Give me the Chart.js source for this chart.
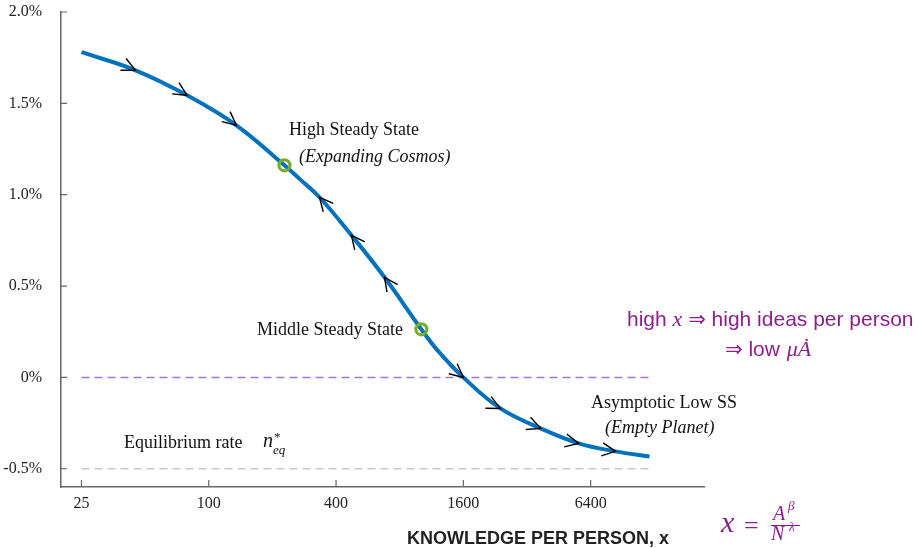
<!DOCTYPE html>
<html>
<head>
<meta charset="utf-8">
<script src="https://cdn.jsdelivr.net/npm/chart.js@4"></script>
<style>
  html, body { margin: 0; padding: 0; background: #fff; }
</style>
</head>
<body>
<canvas id="chart" width="922" height="548"></canvas>
<script>
// knowledge per person (log axis) vs growth rate in %
const curveX = [25, 45, 79, 135, 228, 272, 334, 473, 678, 1013, 1208, 1600, 2395, 3715, 5620, 8390, 12150]
const curveY = [1.78, 1.681, 1.544, 1.38, 1.161, 1.081, 0.986, 0.778, 0.548, 0.263, 0.148, 0.0, -0.170, -0.279, -0.361, -0.405, -0.433]

const steadyX = [228, 1013]
const steadyY = [1.161, 0.263]

// arrow heads along the path, dir 1 = towards larger x, -1 = back
const arrowX = [45, 79, 135, 334, 473, 678, 1600, 2395, 3715, 5620, 8390]
const arrowY = [1.681, 1.544, 1.38, 0.986, 0.778, 0.548, 0.0, -0.170, -0.279, -0.361, -0.405]
const arrowDir = [1, 1, 1, -1, -1, -1, 1, 1, 1, 1, 1]

const refX = [25, 12150]
const zeroY = [0, 0]
const eqY = [-0.5, -0.5]

const xTicks = [25, 100, 400, 1600, 6400]
const yTicks = [-0.5, 0, 0.5, 1, 1.5, 2]

const serif = "'Liberation Serif', 'DejaVu Serif', serif"
const sans = "'Liberation Sans', 'DejaVu Sans', sans-serif"
const purple = '#8d1f8d'

const pts = (xs, ys) => xs.map((v, i) => ({x: v, y: ys[i]}))

const text = (ctx, str, x, y, font, color, align) => {
    ctx.font = font
    ctx.fillStyle = color || '#111'
    ctx.textAlign = align || 'left'
    ctx.textBaseline = 'middle'
    ctx.fillText(str, x, y)
    return x + ctx.measureText(str).width
}

const noPad = s => {
    s.paddingTop = 0
    s.paddingBottom = 0
    s.paddingLeft = 0
    s.paddingRight = 0
}

const arrowPlugin = {
    id: 'arrows',
    afterDatasetsDraw(chart) {
        const {ctx, scales: {x, y}} = chart
        const px = curveX.map(v => x.getPixelForValue(v))
        const py = curveY.map(v => y.getPixelForValue(v))
        ctx.save()
        ctx.strokeStyle = '#000'
        ctx.lineWidth = 1.4
        arrowX.forEach((ax, i) => {
            const tx = x.getPixelForValue(ax)
            const ty = y.getPixelForValue(arrowY[i])
            let k = px.findIndex(p => p > tx + 0.5)
            if (k < 1) k = px.length - 1
            let ang = Math.atan2(py[k] - py[k - 1], px[k] - px[k - 1])
            if (arrowDir[i] < 0) ang += Math.PI
            const len = 15, spread = 0.45
            ctx.beginPath()
            ctx.moveTo(tx - len * Math.cos(ang - spread), ty - len * Math.sin(ang - spread))
            ctx.lineTo(tx, ty)
            ctx.lineTo(tx - len * Math.cos(ang + spread), ty - len * Math.sin(ang + spread))
            ctx.stroke()
        })
        ctx.restore()
    }
}

const tickPlugin = {
    id: 'innerTicks',
    afterDraw(chart) {
        const {ctx, chartArea, scales: {x, y}} = chart
        ctx.save()
        ctx.strokeStyle = '#666'
        ctx.lineWidth = 1.2
        ctx.beginPath()
        xTicks.forEach(v => {
            const p = x.getPixelForValue(v)
            ctx.moveTo(p, chartArea.bottom)
            ctx.lineTo(p, chartArea.bottom - 7)
        })
        yTicks.forEach(v => {
            const p = y.getPixelForValue(v)
            ctx.moveTo(chartArea.left, p)
            ctx.lineTo(chartArea.left + 6, p)
        })
        ctx.stroke()
        ctx.restore()
    }
}

const notePlugin = {
    id: 'notes',
    afterDraw(chart) {
        const ctx = chart.ctx
        ctx.save()
        text(ctx, 'High Steady State', 289, 130, `18px ${serif}`)
        text(ctx, '(Expanding Cosmos)', 299, 157, `italic 18px ${serif}`)
        text(ctx, 'Middle Steady State', 257, 330, `18px ${serif}`)
        text(ctx, 'Asymptotic Low SS', 591, 403, `18px ${serif}`)
        text(ctx, '(Empty Planet)', 605, 428, `italic 18px ${serif}`)
        text(ctx, 'Equilibrium rate', 124, 443, `18px ${serif}`)
        text(ctx, 'n', 263, 442, `italic 20px ${serif}`)
        text(ctx, '*', 274, 438, `13px ${serif}`)
        text(ctx, 'eq', 273, 451, `italic 13px ${serif}`)

        // purple remark on the right
        let cx = text(ctx, 'high ', 627, 320, `21px ${sans}`, purple)
        cx = text(ctx, 'x', cx, 320, `italic 22px ${serif}`, purple)
        text(ctx, ' \u21d2 high ideas per person', cx, 320, `21px ${sans}`, purple)
        cx = text(ctx, '\u21d2 low ', 725, 350, `21px ${sans}`, purple)
        text(ctx, '\u03bc\u0226', cx + 1, 350, `italic 22px ${serif}`, purple)

        // axis title and formula
        text(ctx, 'KNOWLEDGE PER PERSON, x', 407, 539, `bold 18px ${sans}`, '#222')
        text(ctx, 'x', 721, 524, `italic 30px ${serif}`, purple)
        text(ctx, '=', 744, 527, `26px ${serif}`, purple)
        text(ctx, 'A', 773, 515, `italic 20px ${serif}`, purple)
        text(ctx, '\u03b2', 788, 507, `italic 13px ${serif}`, purple)
        text(ctx, 'N', 771, 535, `italic 20px ${serif}`, purple)
        text(ctx, '\u03bb', 789, 528, `italic 13px ${serif}`, purple)
        ctx.strokeStyle = purple
        ctx.lineWidth = 1
        ctx.beginPath()
        ctx.moveTo(771, 525.5)
        ctx.lineTo(800, 525.5)
        ctx.stroke()
        ctx.restore()
    }
}

new Chart(document.getElementById('chart'), {
    type: 'line',
    data: {
        datasets: [
            {
                data: pts(steadyX, steadyY),
                showLine: false,
                pointRadius: 5.5,
                pointBorderWidth: 3.2,
                pointBorderColor: '#77ac30',
                pointBackgroundColor: 'rgba(0,0,0,0)'
            },
            {
                data: pts(curveX, curveY),
                borderColor: '#0072bd',
                borderWidth: 4,
                pointRadius: 0,
                tension: 0.4
            },
            {
                data: pts(refX, zeroY),
                borderColor: '#a274dc',
                borderWidth: 1.5,
                borderDash: [8, 5],
                pointRadius: 0
            },
            {
                data: pts(refX, eqY),
                borderColor: '#c8c8c8',
                borderWidth: 1.5,
                borderDash: [8, 5],
                pointRadius: 0
            }
        ]
    },
    options: {
        responsive: false,
        animation: false,
        layout: { padding: { top: 12, right: 218, left: 0, bottom: 0 } },
        plugins: { legend: { display: false }, tooltip: { enabled: false } },
        scales: {
            x: {
                type: 'logarithmic',
                min: 20,
                max: 22000,
                afterBuildTicks: s => { s.ticks = xTicks.map(v => ({value: v})) },
                afterFit: s => { s.height = 61; noPad(s) },
                grid: { display: false, drawTicks: false },
                border: { display: true, color: '#666', width: 1.5 },
                ticks: {
                    padding: 7,
                    color: '#222',
                    font: { family: serif, size: 16 },
                    maxRotation: 0,
                    callback: v => String(v)
                }
            },
            y: {
                min: -0.6,
                max: 2.0,
                afterBuildTicks: s => { s.ticks = yTicks.map(v => ({value: v})) },
                afterFit: s => { s.width = 61; noPad(s) },
                grid: { display: false, drawTicks: false },
                border: { display: true, color: '#666', width: 1.5 },
                ticks: {
                    padding: 19,
                    color: '#222',
                    font: { family: serif, size: 16 },
                    callback: v => v === 0 ? '0%' : v.toFixed(1) + '%'
                }
            }
        }
    },
    plugins: [arrowPlugin, tickPlugin, notePlugin]
})
</script>
</body>
</html>
